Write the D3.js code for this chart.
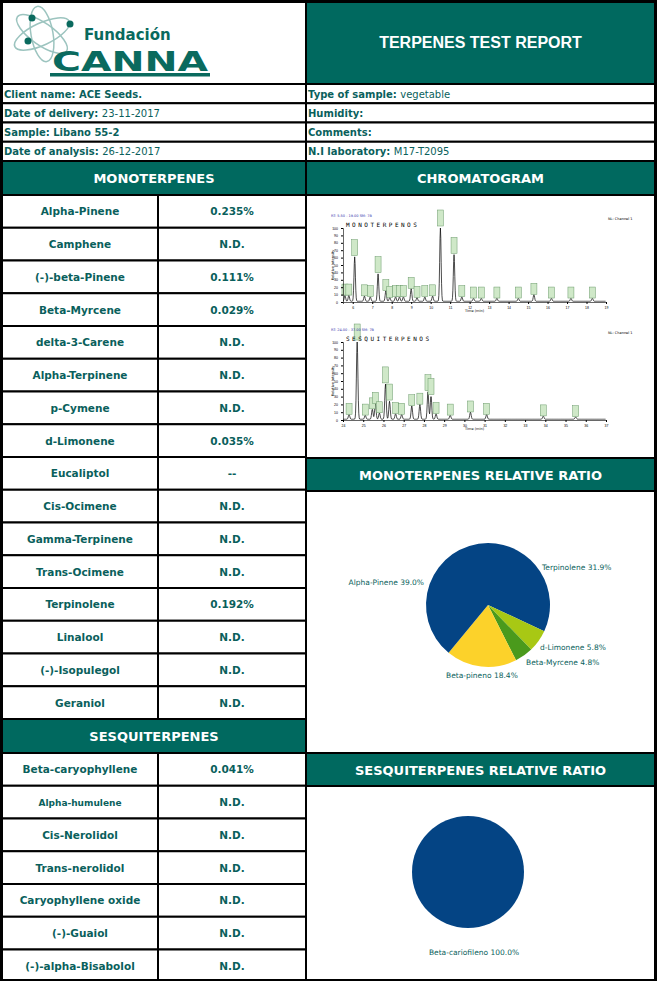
<!DOCTYPE html>
<html><head><meta charset="utf-8">
<script src="https://cdn.jsdelivr.net/npm/d3@7"></script>
<style>body{margin:0;background:#fff}svg{display:block;font-family:"DejaVu Sans",sans-serif}</style>
</head><body><svg id="c" width="657" height="981"></svg>
<script>
var infoLeft = [["Client name: ACE Seeds.", ""], ["Date of delivery: ", "23-11-2017"], ["Sample: Libano 55-2", ""], ["Date of analysis: ", "26-12-2017"]];
var infoRight = [["Type of sample: ", "vegetable"], ["Humidity:", ""], ["Comments:", ""], ["N.I laboratory: ", "M17-T2095"]];
var monoNames = ["Alpha-Pinene","Camphene","(-)-beta-Pinene","Beta-Myrcene","delta-3-Carene","Alpha-Terpinene","p-Cymene","d-Limonene","Eucaliptol","Cis-Ocimene","Gamma-Terpinene","Trans-Ocimene","Terpinolene","Linalool","(-)-Isopulegol","Geraniol"];
var monoValues = ["0.235%","N.D.","0.111%","0.029%","N.D.","N.D.","N.D.","0.035%","--","N.D.","N.D.","N.D.","0.192%","N.D.","N.D.","N.D."];
var sesqNames = ["Beta-caryophyllene","Alpha-humulene","Cis-Nerolidol","Trans-nerolidol","Caryophyllene oxide","(-)-Guaiol","(-)-alpha-Bisabolol"];
var sesqValues = ["0.041%","N.D.","N.D.","N.D.","N.D.","N.D.","N.D."];
var monoPieLabels = ["Terpinolene","d-Limonene","Beta-Myrcene","Beta-pineno","Alpha-Pinene"];
var monoPieValues = [31.9, 5.8, 4.8, 18.4, 39.0];
var monoPieColors = ["#044484","#a8c814","#4a9a1c","#fcd22a","#044484"];
var sesqPieLabels = ["Beta-cariofileno"];
var sesqPieValues = [100.0];
// chromatogram peaks [time, relative height]
var peaksMono = [[5.6,8],[5.8,8],[6.1,60],[6.6,7],[6.9,6],[7.3,37],[7.7,14],[7.9,5],[8.2,6],[8.4,6],[8.6,6],[9.0,17],[9.3,5],[9.7,6],[10.1,7],[10.5,100],[11.2,63],[11.6,6],[12.2,4],[12.6,4],[13.4,4],[14.5,4],[15.3,9],[16.2,4],[17.2,4],[18.3,4]];
var peaksSesq = [[24.3,6],[24.7,100],[25.1,5],[25.45,13],[25.6,20],[25.8,8],[26.1,45],[26.3,23],[26.6,7],[26.9,6],[27.4,17],[27.8,19],[28.2,35],[28.35,30],[28.6,7],[29.3,5],[30.3,9],[31.1,6],[33.9,4],[35.5,3]];

var teal = "#00695f", txt = "#0a5f5c";
var svg = d3.select("#c");
function rect(x,y,w,h,fill){svg.append("rect").attr("x",x).attr("y",y).attr("width",w).attr("height",h).attr("fill",fill||"#fff").attr("stroke","#000").attr("stroke-width",2);}
function header(x,y,w,h,t,size){rect(x,y,w,h,teal);return svg.append("text").attr("x",x+w/2).attr("y",y+h/2+5).attr("text-anchor","middle").attr("fill","#fff").attr("font-weight","bold").attr("font-size",size||14).text(t);}

// top header
rect(2,2,304,82);
header(306,2,349,82,"TERPENES TEST REPORT",16).attr("font-family","Liberation Sans,Arial");
// logo
var lg = svg.append("g").attr("fill","none").attr("stroke","#9cc4bf").attr("stroke-width",1.5);
lg.append("ellipse").attr("cx",42).attr("cy",34).attr("rx",30).attr("ry",11).attr("transform","rotate(-25 42 34)");
lg.append("ellipse").attr("cx",42).attr("cy",34).attr("rx",30).attr("ry",11).attr("transform","rotate(35 42 34)");
lg.append("ellipse").attr("cx",42).attr("cy",34).attr("rx",11).attr("ry",28).attr("transform","rotate(-10 42 34)");
[[32,18],[70,24],[28,41]].forEach(function(p){svg.append("circle").attr("cx",p[0]).attr("cy",p[1]).attr("r",3.5).attr("fill","#0a6a5e");});
svg.append("text").attr("x",84).attr("y",40).attr("fill","#0a6a5e").attr("font-size",15).attr("font-weight","bold").text("Fundación");
svg.append("text").attr("x",52).attr("y",71).attr("fill","#0a6a5e").attr("font-size",27).attr("font-weight","bold").attr("textLength",156).attr("lengthAdjust","spacingAndGlyphs").text("CANNA");
svg.append("rect").attr("x",50).attr("y",73).attr("width",160).attr("height",3.5).attr("fill","#0a6a5e");

// info rows
var infoY = d3.scaleBand().domain(d3.range(4)).range([84,161]);
function infoRows(data,x,w){
  data.forEach(function(d,i){
    rect(x,infoY(i),w,infoY.bandwidth());
    var t = svg.append("text").attr("x",x+2).attr("y",infoY(i)+13.5).attr("font-size",10).attr("fill",txt);
    t.append("tspan").attr("font-weight","bold").text(d[0]);
    t.append("tspan").text(d[1]);
  });
}
infoRows(infoLeft,2,304); infoRows(infoRight,306,349);

// left table
header(2,161,304,34,"MONOTERPENES",13);
var rowH = 32.75;
function tableRows(names,vals,y0){
  var y = d3.scaleBand().domain(d3.range(names.length)).range([y0,y0+rowH*names.length]);
  names.forEach(function(n,i){
    rect(2,y(i),156,y.bandwidth()); rect(158,y(i),148,y.bandwidth());
    svg.append("text").attr("x",80).attr("y",y(i)+y.bandwidth()/2+4).attr("text-anchor","middle").attr("font-size",n=="Alpha-humulene"?9:10.5).attr("font-weight","bold").attr("fill",txt).text(n);
    svg.append("text").attr("x",232).attr("y",y(i)+y.bandwidth()/2+4).attr("text-anchor","middle").attr("font-size",10.5).attr("font-weight","bold").attr("fill",txt).text(vals[i]);
  });
}
tableRows(monoNames,monoValues,195);
header(2,719,304,34,"SESQUITERPENES",13);
tableRows(sesqNames,sesqValues,753);

// right column
header(306,161,349,34,"CHROMATOGRAM",13);
rect(306,195,349,263);
header(306,458,349,33,"MONOTERPENES RELATIVE RATIO",13);
rect(306,491,349,262);
header(306,753,349,33,"SESQUITERPENES RELATIVE RATIO",13);
rect(306,786,349,195);

// chromatograms
function chrom(peaks,dom,x0,x1,yb,yt,title,rt){
  var x = d3.scaleLinear().domain(dom).range([x0,x1]);
  var y = d3.scaleLinear().domain([0,100]).range([yb,yt]);
  var g = svg.append("g");
  var pts = d3.range(dom[0],dom[1],0.02).map(function(t){
    var v = 1; peaks.forEach(function(p){v += p[1]*Math.exp(-Math.pow((t-p[0])/0.05,2));}); return [t,Math.min(v,100)];});
  g.append("path").attr("d",d3.line().x(function(d){return x(d[0]);}).y(function(d){return y(d[1]);})(pts)).attr("fill","none").attr("stroke","#000").attr("stroke-width",0.7);
  peaks.forEach(function(p){
    g.append("rect").attr("x",x(p[0])-3).attr("y",y(Math.min(p[1],100))-(p[1]>20?18:12)).attr("width",6).attr("height",p[1]>20?16:11).attr("fill","#cfe8c8").attr("stroke","#6a9a6a").attr("stroke-width",0.5);
  });
  var ax = g.append("g").attr("transform","translate(0,"+yb+")").call(d3.axisBottom(x).ticks(dom[1]-dom[0]).tickSize(2).tickFormat(d3.format("d")));
  var ay = g.append("g").attr("transform","translate("+x0+",0)").call(d3.axisLeft(y).ticks(10).tickSize(2));
  [ax,ay].forEach(function(a){a.selectAll("text").attr("font-size",3.5);a.select(".domain").attr("stroke-width",0.6);});
  g.append("text").attr("x",(x0+x1)/2).attr("y",yb+10).attr("text-anchor","middle").attr("font-size",3.5).text("Time (min)");
  g.append("text").attr("transform","translate("+(x0-9)+","+((yb+yt)/2)+") rotate(-90)").attr("text-anchor","middle").attr("font-size",3.5).text("Relative Intensity");
  g.append("text").attr("x",x0-12).attr("y",yt-11).attr("font-size",3.5).attr("fill","#33a").text(rt);
  g.append("text").attr("x",x0+3).attr("y",yt-1).attr("font-size",6).attr("letter-spacing",2.5).attr("font-family","DejaVu Sans Mono").text(title);
  g.append("text").attr("x",x1+2).attr("y",yt-8).attr("font-size",3.5).text("NL: Channel 1");
}
chrom(peaksMono,[5.5,19],343,606,302,228,"MONOTERPENOS","RT: 5.50 - 19.00  SM: 7B");
chrom(peaksSesq,[24,37],343,606,420,342,"SESQUITERPENOS","RT: 24.00 - 37.00  SM: 7B");

// pies
function pie(vals,colors,cx,cy,r){
  var arcs = d3.pie().sort(null)(vals);
  var arc = d3.arc().innerRadius(0).outerRadius(r);
  var g = svg.append("g").attr("transform","translate("+cx+","+cy+")");
  g.selectAll("path").data(arcs).enter().append("path").attr("d",arc).attr("fill",function(d,i){return colors[i];});
  return arcs;
}
pie(monoPieValues,monoPieColors,488,605,62);
var lblPos = [[542,570,"start"],[540,650,"start"],[526,665,"start"],[446,678,"start"],[424,585,"end"]];
monoPieLabels.forEach(function(l,i){
  svg.append("text").attr("x",lblPos[i][0]).attr("y",lblPos[i][1]).attr("text-anchor",lblPos[i][2]).attr("font-size",7.5).attr("fill",txt).text(l+" "+monoPieValues[i].toFixed(1)+"%");
});
pie(sesqPieValues,["#044484"],468,872,56);
svg.append("text").attr("x",474).attr("y",955).attr("text-anchor","middle").attr("font-size",7.5).attr("fill",txt).text(sesqPieLabels[0]+" "+sesqPieValues[0].toFixed(1)+"%");
// outer border
svg.append("rect").attr("x",1).attr("y",1).attr("width",655).attr("height",979).attr("fill","none").attr("stroke","#000").attr("stroke-width",2);
</script></body></html>
